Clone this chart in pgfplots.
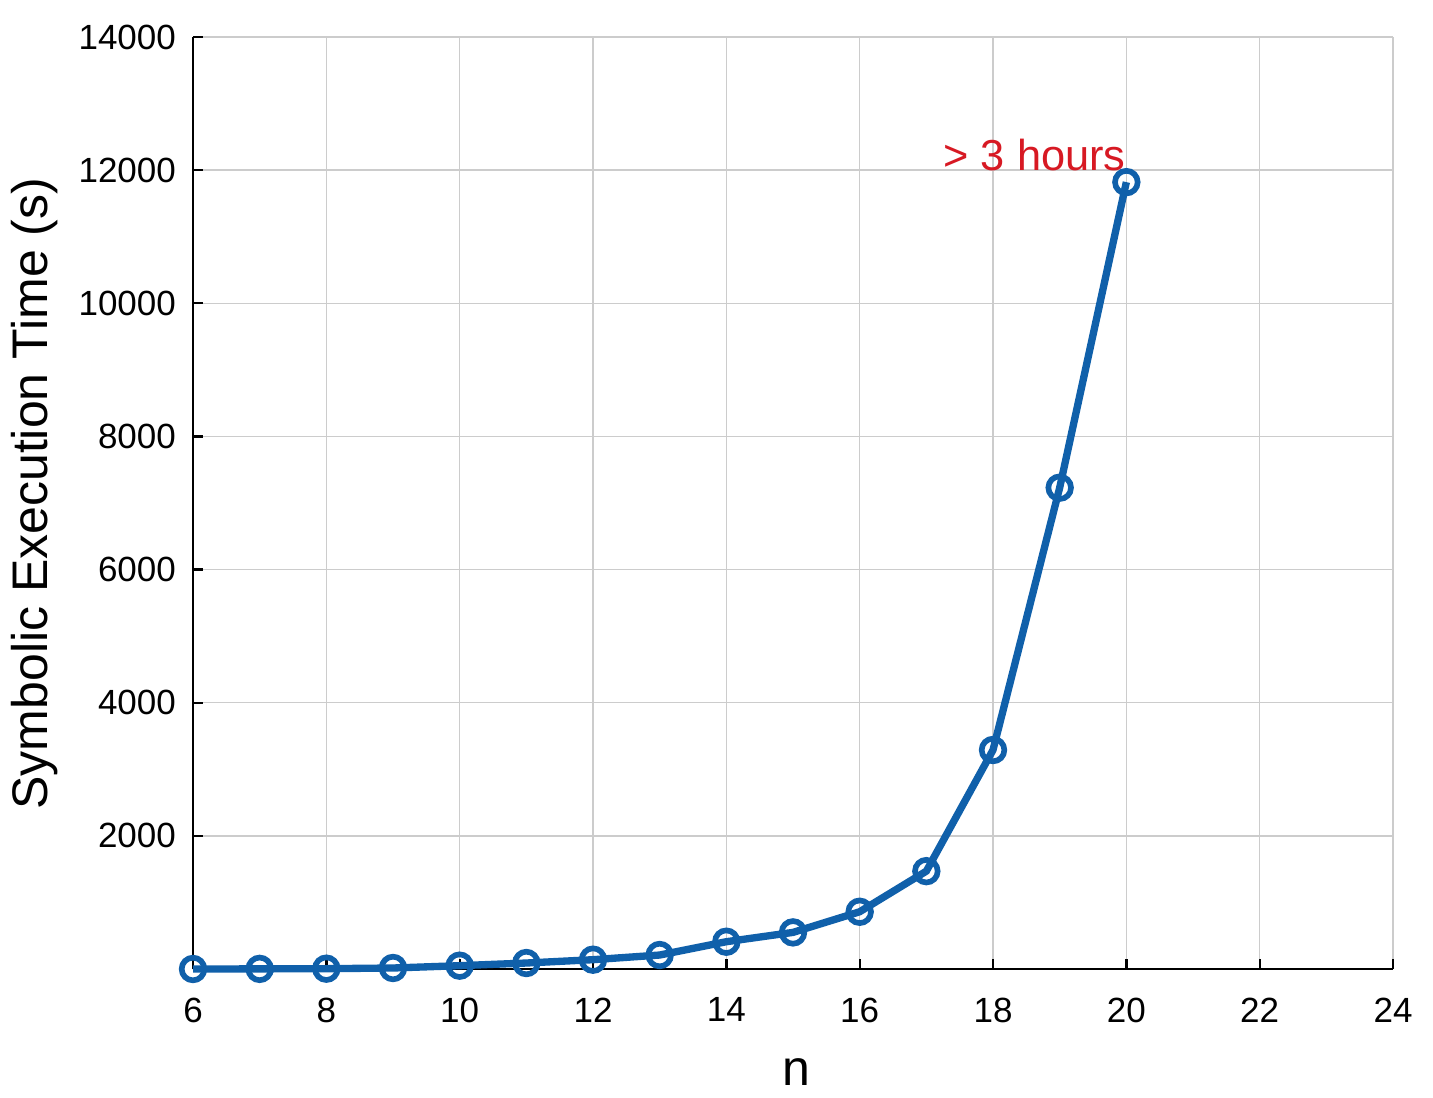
\documentclass[border=0pt]{standalone}
\usepackage{pgfplots}
\pgfplotsset{compat=1.18}
\usepackage{fontspec}
\setmainfont{Liberation Sans}
\definecolor{mblue}{RGB}{16,96,170}
\definecolor{mred}{RGB}{215,25,35}
\begin{document}
\begin{tikzpicture}
  % fixes the page to the reference proportions (1px = 0.3pt)
  \useasboundingbox (-57.9pt,-38.4pt) rectangle (372pt,290.7pt);
  \begin{axis}[
      scale only axis,
      width=360pt, height=279.6pt,
      xmin=6, xmax=24,
      ymin=0, ymax=14000,
      xtick={6,8,...,24},
      ytick={2000,4000,...,14000},
      axis x line*=bottom,
      axis y line*=left,
      axis line style={black, line width=0.7pt, -},
      tick style={black, line width=0.7pt},
      tick align=inside,
      major tick length=3pt,
      grid=major,
      major grid style={black!20, line width=0.45pt},
      /pgf/number format/assume math mode=true,
      scaled y ticks=false,
      yticklabel style={/pgf/number format/1000 sep={}, xshift=-1.6pt},
      xticklabel style={yshift=-5.1pt},
      tick label style={font=\fontsize{10.5}{12}\selectfont},
      label style={font=\fontsize{15}{18}\selectfont},
      xlabel={n},
      ylabel={Symbolic Execution Time (s)},
      xlabel style={at={(axis description cs:0.5025,0)}, anchor=center, yshift=-30.9pt},
      ylabel style={at={(axis description cs:-0.1317,0.51)}, anchor=center},
      clip=false,
    ]

    % measured times
    \addplot[mblue, line width=2.2pt, mark=o,
      mark options={line width=1.7pt, mark size=3.4pt, fill=none}]
      coordinates {
        (6,0) (7,2) (8,5) (9,15) (10,50) (11,90) (12,140) (13,210)
        (14,410) (15,550) (16,860) (17,1470) (18,3290) (19,7230) (20,11820)
      };

    \node[anchor=base west, inner sep=0, text=mred,
      font=\fontsize{13}{15}\selectfont] at (axis cs:17.25,12000) {> 3 hours};
  \end{axis}
\end{tikzpicture}
\end{document}
